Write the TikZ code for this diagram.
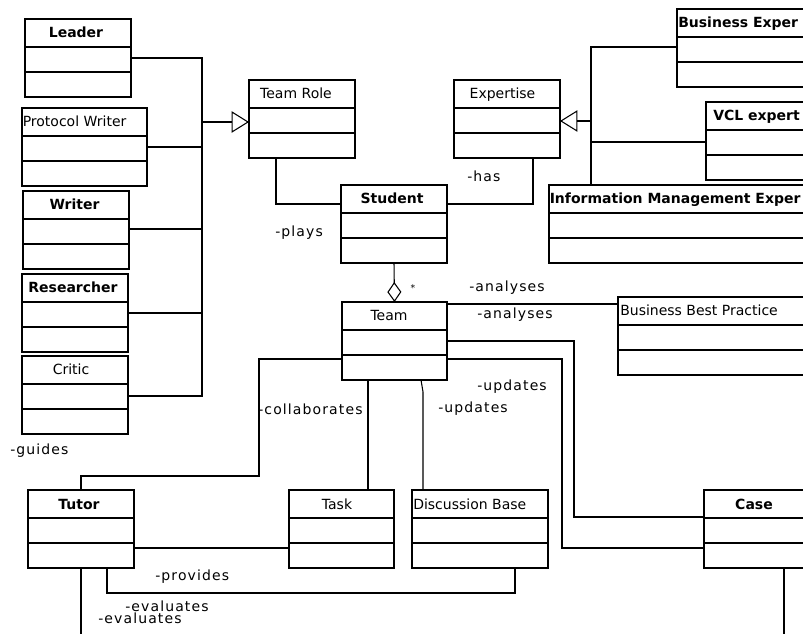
\documentclass[tikz,border=0pt]{standalone}
\usepackage{fontspec}
\setmainfont{DejaVu Sans}
\newfontfamily\lblfont[LetterSpace=8]{DejaVu Sans}
\usetikzlibrary{calc,arrows.meta}
\tikzset{
  classbox/.style={draw, line width=0.8pt, inner sep=0pt, outer sep=0pt,
    minimum height=58.5pt, anchor=north west,
    path picture={\draw[line width=0.8pt]
      ($(path picture bounding box.north west)+(0,28)$) -- ($(path picture bounding box.north east)+(0,28)$)
      ($(path picture bounding box.north west)+(0,53)$) -- ($(path picture bounding box.north east)+(0,53)$);}},
  ttl/.style={inner sep=0pt, anchor=base, font=\fontsize{10.5pt}{12pt}\selectfont},
  ttlb/.style={inner sep=0pt, anchor=base, font=\fontsize{10.5pt}{12pt}\selectfont\bfseries},
  lbl/.style={inner sep=0pt, anchor=base west, font=\fontsize{10.5pt}{12pt}\lblfont},
  conn/.style={line width=0.8pt},
  gen/.style={conn, -{Triangle[open, length=13pt, width=16pt]}},
  agg/.style={conn, -{Diamond[open, length=15pt, width=10.5pt]}},
}
\newcommand\umlcls[4]{\node[classbox, minimum width={#4*0.75pt}] (#1) at (#2,#3) {};}
\begin{document}
\begin{tikzpicture}[x=0.75pt, y=-0.75pt]
\useasboundingbox (0,0) rectangle (803,634);
\clip (0,0) rectangle (803,634);
\fill[white] (0,0) rectangle (803,634);

% classes
\umlcls{leader}{25}{19}{106}
\umlcls{protw}{22}{108}{125}
\umlcls{writer}{23}{191}{106}
\umlcls{researcher}{22}{274}{106}
\umlcls{critic}{22}{356}{106}
\umlcls{teamrole}{249}{80}{106}
\umlcls{expertise}{454}{80}{106}
\umlcls{student}{341}{185}{106}
\umlcls{busexp}{677}{9}{160}
\umlcls{vcl}{706}{102}{160}
\umlcls{ime}{549}{185}{300}
\umlcls{team}{342}{302}{105}
\umlcls{bbp}{618}{297}{220}
\umlcls{tutor}{28}{490}{106}
\umlcls{task}{289}{490}{105}
\umlcls{discbase}{412}{490}{136}
\umlcls{case}{704}{490}{110}

% titles
\node[ttlb] (leaderT) at (76,38) {Leader};
\node[ttl, anchor=base west] (protwT) at (22.5,127) {Protocol Writer};
\node[ttlb] (writerT) at (74.5,210) {Writer};
\node[ttlb] (researcherT) at (73,293) {Researcher};
\node[ttl] (criticT) at (71,375) {Critic};
\node[ttl] (teamroleT) at (296,99) {Team Role};
\node[ttl] (expertiseT) at (502.5,99) {Expertise};
\node[ttlb] (studentT) at (392,204) {Student};
\node[ttlb, anchor=base west] (busexpT) at (678,28) {Business Exper};
\node[ttlb, anchor=base west] (vclT) at (713,121) {VCL expert};
\node[ttlb, anchor=base west] (imeT) at (549.5,204) {Information Management Exper};
\node[ttl] (teamT) at (389,321) {Team};
\node[ttl, anchor=base west] (bbpT) at (620,316) {Business Best Practice};
\node[ttlb] (tutorT) at (79,509) {Tutor};
\node[ttl] (taskT) at (337,509) {Task};
\node[ttl, anchor=base west] (discbaseT) at (413,509) {Discussion Base};
\node[ttlb] (caseT) at (754,509) {Case};

% generalization bus (team roles)
\coordinate (bL1) at (202,58);
\coordinate (bL2) at (202,147);
\coordinate (bL3) at (202,229);
\coordinate (bL4) at (202,313);
\coordinate (bL5) at (202,396);
\coordinate (bLm) at (202,122);
\draw[conn] (leader.east |- bL1) -- (bL1) -- (bL5) -- (critic.east |- bL5);
\draw[conn] (protw.east |- bL2) -- (bL2);
\draw[conn] (writer.east |- bL3) -- (bL3);
\draw[conn] (researcher.east |- bL4) -- (bL4);
\draw[gen] (bLm) -- (teamrole.west |- bLm);

% generalization bus (expertise)
\coordinate (bR1) at (591,47);
\coordinate (bR2) at (591,142);
\coordinate (bRm) at (591,121);
\draw[conn] (busexp.west |- bR1) -- (bR1) -- (bR1 |- ime.north);
\draw[conn] (vcl.west |- bR2) -- (bR2);
\draw[gen] (bRm) -- (expertise.east |- bRm);

% student associations
\coordinate (c1) at (276,204);
\coordinate (c2) at (533,204);
\draw[conn] (c1 |- teamrole.south) -- (c1) -- (student.west |- c1);
\draw[conn] (c2 |- expertise.south) -- (c2) -- (student.east |- c2);
\draw[agg] (student.south) -- (team.north);

% team associations
\coordinate (c3) at (447,304);
\draw[conn] (team.east |- c3) -- (bbp.west |- c3);
\coordinate (c4) at (574,341);
\coordinate (c5) at (574,517);
\draw[conn] (team.east |- c4) -- (c4) -- (c5) -- (case.west |- c5);
\coordinate (c6) at (562,359);
\coordinate (c7) at (562,548);
\draw[conn] (team.east |- c6) -- (c6) -- (c7) -- (case.west |- c7);
\coordinate (c8) at (368,440);
\draw[conn] (c8 |- team.south) -- (c8 |- task.north);
\coordinate (c9) at (421,440);
\coordinate (c10) at (423,392);
\draw[conn] (c9 |- team.south) -- (c10) -- (c10 |- discbase.north);
\coordinate (c11) at (259,359);
\coordinate (c12) at (259,476);
\coordinate (c13) at (81,476);
\draw[conn] (team.west |- c11) -- (c11) -- (c12) -- (c13) -- (c13 |- tutor.north);

% tutor associations
\coordinate (c14) at (200,548);
\draw[conn] (tutor.east |- c14) -- (task.west |- c14);
\coordinate (c15) at (107,593);
\coordinate (c16) at (515,593);
\draw[conn] (c15 |- tutor.south) -- (c15) -- (c16) -- (c16 |- discbase.south);
\coordinate (e1) at (81,640);
\draw[conn] (e1 |- tutor.south) -- (e1);
\coordinate (e2) at (784,640);
\draw[conn] (e2 |- case.south) -- (e2);

% labels
\node[lbl] (l1) at (10,455) {-guides};
\node[lbl] (l2) at (275,237) {-plays};
\node[lbl] (l3) at (467,182) {-has};
\node[inner sep=0pt, font=\fontsize{7pt}{8pt}\selectfont] (l4) at (413,288) {*};
\node[lbl] (l5) at (469,292) {-analyses};
\node[lbl] (l6) at (477,319) {-analyses};
\node[lbl] (l7) at (477,391) {-updates};
\node[lbl] (l8) at (438,412) {-updates};
\node[lbl] (l9) at (258,414) {-collaborates};
\node[lbl] (l10) at (155,580) {-provides};
\node[lbl] (l11) at (125,611) {-evaluates};
\node[lbl] (l12) at (98,623) {-evaluates};
\end{tikzpicture}
\end{document}
